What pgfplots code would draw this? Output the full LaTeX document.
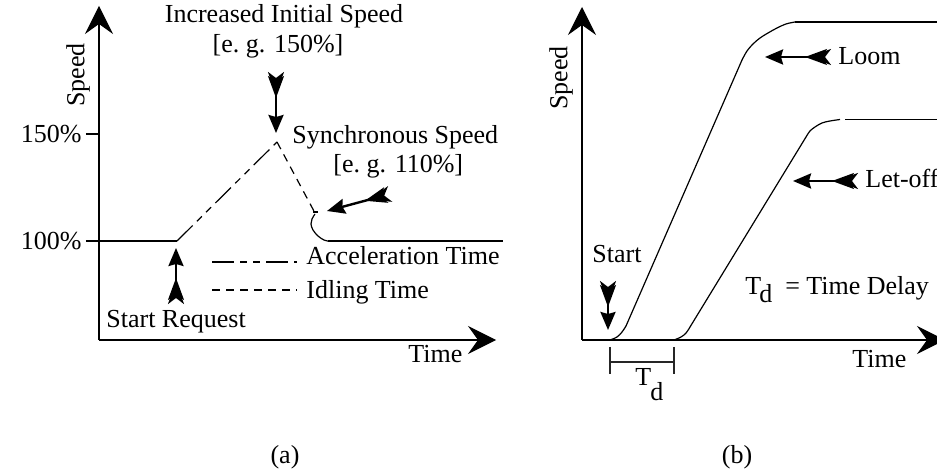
\documentclass[border=0pt]{standalone}
\usepackage{fontspec}
\setmainfont{Liberation Serif}
\usepackage{pgfplots}
\pgfplotsset{compat=1.18}
\usetikzlibrary{arrows.meta}

\tikzset{
  axarrow/.style={-{Stealth[length=14pt,width=14pt,inset=5pt]}},
  fletch/.style={line width=1.2pt, {Stealth[reversed,length=11pt,width=8pt,inset=3pt]Stealth[reversed,length=11pt,width=8pt,inset=3pt,sep=-9pt]}-{Stealth[length=9pt,width=7.5pt,inset=1pt]}},
  lbl/.style={inner sep=0pt, font=\fontsize{13}{15}\selectfont},
  accel/.style={line width=0.6pt, dash pattern=on 11pt off 3pt on 3.5pt off 3pt on 3.5pt off 3pt},
  idle/.style={line width=0.6pt, dash pattern=on 4pt off 3pt},
  solid line/.style={line width=0.6pt},
}

\begin{document}
\begin{tikzpicture}
\useasboundingbox (0,0) rectangle (468.5pt,235.5pt);

% ---------------- panel (a) ----------------
\begin{axis}[
  at={(49.5pt,65.5pt)}, anchor=south west,
  scale only axis, width=198.5pt, height=167pt,
  xmin=99, xmax=496, ymin=131, ymax=465,
  axis lines=left,
  axis line style={line width=0.6pt, axarrow},
  xtick=\empty, ytick={230,337}, yticklabels={100\%,150\%},
  tick align=outside, major tick length=6.5pt,
  tick style={line width=0.6pt, black},
  yticklabel style={font=\fontsize{13}{15}\selectfont, inner sep=2pt},
  clip=false,
]
% normal speed
\addplot[solid line, black] coordinates {(99,230) (177,230)};
% acceleration
\addplot[accel, black] coordinates {(177,230) (277,329)};
% idling
\addplot[idle, black] coordinates {(277,329) (315,258)};
% settling to synchronous speed
\addplot[solid line, black] coordinates {(313,259) (318,259)};
\addplot[solid line, black, smooth, tension=0.6] coordinates {(315,257) (312,252) (311,247) (313,241) (318,235) (324,231) (328,230)};
\addplot[solid line, black] coordinates {(328,230) (503,230)};
% legend lines
\addplot[accel, black] coordinates {(212,209) (297,209)};
\addplot[idle, black] coordinates {(212,181) (297,181)};
% pointer arrows
\addplot[fletch, black] coordinates {(276,399) (276,338)};
\addplot[fletch, black] coordinates {(176,167) (176,223)};
\addplot[fletch, black] coordinates {(390,277) (327,260)};
% texts
\node[lbl, rotate=90, anchor=center] at (axis cs:78,396) {Speed};
\node[lbl, anchor=base] at (axis cs:284,448) {Increased Initial Speed};
\node[lbl, anchor=base] at (axis cs:278,418) {[e.\ g. 150\%]};
\node[lbl, anchor=base west] at (axis cs:292,327) {Synchronous Speed};
\node[lbl, anchor=base west] at (axis cs:333,298) {[e.\ g. 110\%]};
\node[lbl, anchor=base west] at (axis cs:306,206) {Acceleration Time};
\node[lbl, anchor=base west] at (axis cs:306,172) {Idling Time};
\node[lbl, anchor=base west] at (axis cs:106,143) {Start Request};
\node[lbl, anchor=base west] at (axis cs:408,108) {Time};
\node[lbl, anchor=center] at (axis cs:285,14) {(a)};
\end{axis}

% ---------------- panel (b) ----------------
\begin{axis}[
  at={(291pt,65.5pt)}, anchor=south west,
  scale only axis, width=181.5pt, height=166.5pt,
  xmin=582, xmax=945, ymin=131, ymax=464,
  axis lines=left,
  axis line style={line width=0.6pt, axarrow},
  xtick=\empty, ytick=\empty,
  clip=false,
]
% Loom
\addplot[solid line, black, smooth, tension=0.6] coordinates {(610,131) (617,134) (622,139) (626,145)};
\addplot[solid line, black] coordinates {(626,145) (742,411)};
\addplot[solid line, black, smooth, tension=0.6] coordinates {(742,411) (747,420) (753,427) (760,433) (768,438) (777,443) (786,447) (795,449)};
\addplot[solid line, black] coordinates {(795,449) (945,449)};
% Let-off
\addplot[solid line, black, smooth, tension=0.6] coordinates {(674,131) (681,134) (686,138) (690,144)};
\addplot[solid line, black] coordinates {(690,144) (806,334)};
\addplot[solid line, black, smooth, tension=0.6] coordinates {(806,334) (810,340) (815,344) (822,348) (830,350) (840,351.5)};
\addplot[solid line, black] coordinates {(845,351.5) (945,351.5)};
% time delay bracket
\addplot[solid line, black!85] coordinates {(610,109) (674,109)};
\addplot[solid line, black!85] coordinates {(610,124) (610,97)};
\addplot[solid line, black!85] coordinates {(674,124) (674,97)};
% pointer arrows
\addplot[fletch, black] coordinates {(608,190) (608,141)};
\addplot[fletch, black] coordinates {(831,414) (765,414)};
\addplot[fletch, black] coordinates {(858,290) (793,290)};
% texts
\node[lbl, rotate=90, anchor=center] at (axis cs:561,393) {Speed};
\node[lbl, anchor=base west] at (axis cs:838,406) {Loom};
\node[lbl, anchor=base west] at (axis cs:865,283) {Let-off};
\node[lbl, anchor=base west] at (axis cs:592,208) {Start};
\node[lbl, anchor=base west] at (axis cs:745,176) {T\kern-1pt\raisebox{-4pt}{d}\ \ = Time Delay};
\node[lbl, anchor=base west] at (axis cs:635,86) {T\kern-0.5pt\raisebox{-7.5pt}{d}};
\node[lbl, anchor=base west] at (axis cs:852,104) {Time};
\node[lbl, anchor=center] at (axis cs:737,14) {(b)};
\end{axis}
\end{tikzpicture}
\end{document}
